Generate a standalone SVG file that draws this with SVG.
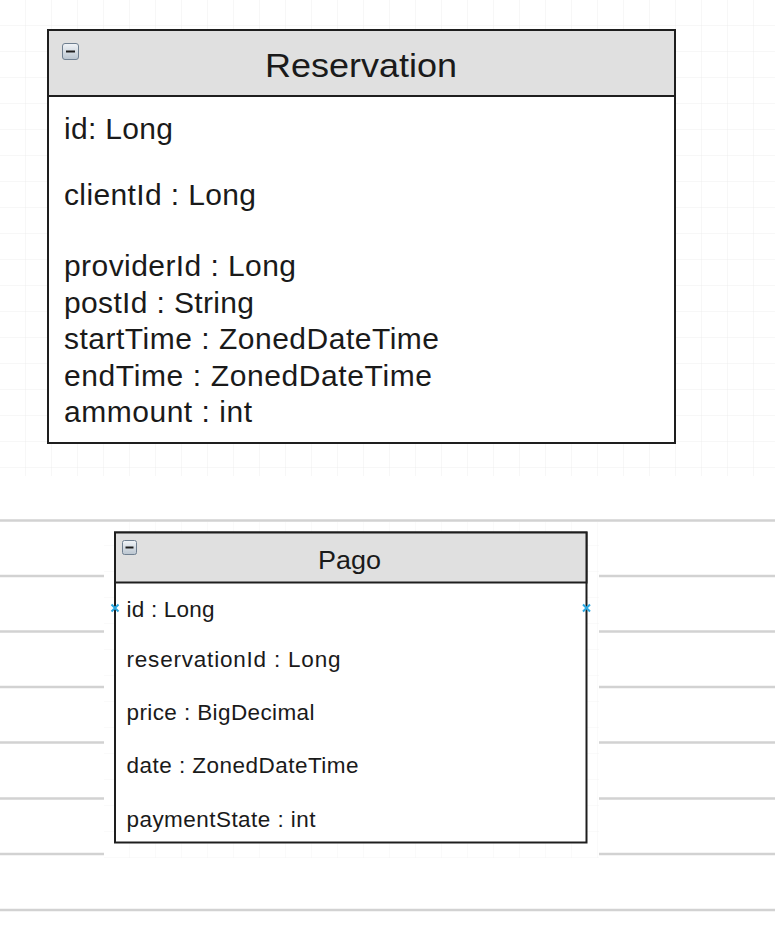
<svg xmlns="http://www.w3.org/2000/svg" width="775" height="927" viewBox="0 0 775 927">
  <defs>
    <style>
      .box { fill: #ffffff; stroke: #1e1e1e; stroke-width: 2; }
      .hdr { fill: #e0e0e0; stroke: #1e1e1e; stroke-width: 2; }
      .title { font-family: "Liberation Sans", Arial, sans-serif; fill: #1a1a1a; text-anchor: middle; }
      .fld { font-family: "Liberation Sans", Arial, sans-serif; fill: #1a1a1a; }
      .r { font-size: 30px; }
      .p { font-size: 22.5px; }
      .band { stroke: #d2d2d2; stroke-width: 2.5; }
      .icon { fill: url(#ig); stroke: #6f7f90; stroke-width: 1; }
      .minus { stroke: #1e1e1e; stroke-width: 2; }
      .pt { stroke: #2aa7e0; stroke-width: 2; }
    </style>
    <pattern id="grid" width="26" height="26" patternUnits="userSpaceOnUse">
      <path d="M26 0 V26 M0 26 H26" fill="none" stroke="#eeeeee" stroke-width="1"/>
    </pattern>
    <pattern id="grid2" width="26" height="26" patternUnits="userSpaceOnUse">
      <path d="M26 0 V26 M0 26 H26" fill="none" stroke="#f4f4f4" stroke-width="1"/>
    </pattern>
    <linearGradient id="ig" x1="0" y1="0" x2="0" y2="1">
      <stop offset="0" stop-color="#f2f5f8"/>
      <stop offset="1" stop-color="#b9c4cf"/>
    </linearGradient>
  </defs>

  <rect x="0" y="0" width="775" height="927" fill="#ffffff"/>
  <rect x="0" y="0" width="775" height="476" fill="url(#grid)"/>

  <g id="background-lines">
    <line class="band" x1="0" y1="520.5" x2="775" y2="520.5"/>
    <line class="band" x1="0" y1="576" x2="104" y2="576"/>
    <line class="band" x1="599" y1="576" x2="775" y2="576"/>
    <line class="band" x1="0" y1="631.5" x2="104" y2="631.5"/>
    <line class="band" x1="599" y1="631.5" x2="775" y2="631.5"/>
    <line class="band" x1="0" y1="687" x2="104" y2="687"/>
    <line class="band" x1="599" y1="687" x2="775" y2="687"/>
    <line class="band" x1="0" y1="742.5" x2="104" y2="742.5"/>
    <line class="band" x1="599" y1="742.5" x2="775" y2="742.5"/>
    <line class="band" x1="0" y1="798.5" x2="104" y2="798.5"/>
    <line class="band" x1="599" y1="798.5" x2="775" y2="798.5"/>
    <line class="band" x1="0" y1="854" x2="104" y2="854"/>
    <line class="band" x1="599" y1="854" x2="775" y2="854"/>
    <line class="band" x1="0" y1="910" x2="775" y2="910"/>
    <rect x="104" y="522" width="495" height="336" fill="url(#grid2)"/>
  </g>

  <g id="connectors"></g>

  <g id="reservation">
    <rect class="box" x="48" y="30" width="627" height="413"/>
    <rect class="hdr" x="48" y="30" width="627" height="66"/>
    <rect class="icon" x="62.5" y="43.5" width="16" height="16" rx="2.5"/>
    <line class="minus" x1="66" y1="51.5" x2="75" y2="51.5"/>
    <text class="title" x="361" y="77" font-size="34" textLength="192" lengthAdjust="spacingAndGlyphs">Reservation</text>
    <text class="fld r" x="64" y="139" textLength="109" lengthAdjust="spacing">id: Long</text>
    <text class="fld r" x="64" y="205" textLength="192" lengthAdjust="spacing">clientId : Long</text>
    <text class="fld r" x="64" y="276" textLength="232" lengthAdjust="spacing">providerId : Long</text>
    <text class="fld r" x="64" y="312.5" textLength="190" lengthAdjust="spacing">postId : String</text>
    <text class="fld r" x="64" y="349" textLength="375" lengthAdjust="spacing">startTime : ZonedDateTime</text>
    <text class="fld r" x="64" y="385.5" textLength="368" lengthAdjust="spacing">endTime : ZonedDateTime</text>
    <text class="fld r" x="64" y="421.5" textLength="188" lengthAdjust="spacing">ammount : int</text>
  </g>

  <g id="pago">
    <rect class="box" x="115" y="532.5" width="471.5" height="310"/>
    <rect class="hdr" x="115" y="532.5" width="471.5" height="50"/>
    <rect class="icon" x="122.5" y="540.5" width="14" height="14" rx="2"/>
    <line class="minus" x1="125.5" y1="547.5" x2="133.5" y2="547.5"/>
    <text class="title" x="349.5" y="569" font-size="26" textLength="63" lengthAdjust="spacingAndGlyphs">Pago</text>
    <text class="fld p" x="126.5" y="616.5" textLength="88" lengthAdjust="spacing">id : Long</text>
    <text class="fld p" x="126.5" y="667" textLength="214" lengthAdjust="spacing">reservationId : Long</text>
    <text class="fld p" x="126.5" y="720" textLength="188" lengthAdjust="spacing">price : BigDecimal</text>
    <text class="fld p" x="126.5" y="773" textLength="232" lengthAdjust="spacing">date : ZonedDateTime</text>
    <text class="fld p" x="126.5" y="826.5" textLength="189" lengthAdjust="spacing">paymentState : int</text>
    <path class="pt" d="M111.5 604.5 L118.5 611.5 M118.5 604.5 L111.5 611.5"/>
    <path class="pt" d="M583 604.5 L590 611.5 M590 604.5 L583 611.5"/>
  </g>
</svg>
